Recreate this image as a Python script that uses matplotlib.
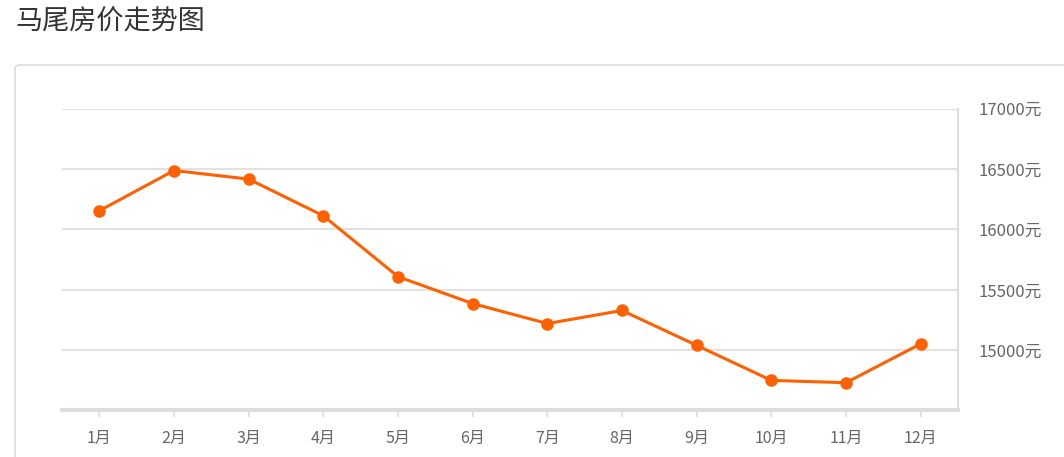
import matplotlib.pyplot as plt
from matplotlib.patches import FancyBboxPatch

plt.rcParams['font.family'] = ['Noto Sans CJK SC', 'DejaVu Sans']

months = ['1月', '2月', '3月', '4月', '5月', '6月', '7月', '8月', '9月', '10月', '11月', '12月']
prices = [16155, 16488, 16417, 16113, 15609, 15386, 15221, 15329, 15040, 14750, 14731, 15053]
y_ticks = [15000, 15500, 16000, 16500, 17000]
y_labels = ['15000元', '15500元', '16000元', '16500元', '17000元']

W, H = 1064, 457
fig = plt.figure(figsize=(W / 100, H / 100), dpi=100)

# title
fig.text(15 / W, 1 - 22 / H, '马尾房价走势图', fontsize=19.5, color='#333333', va='center', ha='left')

# panel border
panel = FancyBboxPatch((15 / W, -0.2), 1.2, 1 - 65 / H + 0.2,
                       boxstyle='round,pad=0,rounding_size=0.006',
                       transform=fig.transFigure, facecolor='white',
                       edgecolor='#dddddd', linewidth=1.2, zorder=-1)
fig.patches.append(panel)

left, right, top, bottom = 62, 958, 108.7, 410
ax = fig.add_axes([left / W, 1 - bottom / H, (right - left) / W, (bottom - top) / H])
ax.set_facecolor('none')
ax.set_zorder(2)

x = list(range(len(months)))
ax.plot(x, prices, color='#ff6000', linewidth=2.2, marker='o', markersize=8, zorder=3)

ax.set_xlim(-0.5, len(months) - 0.5)
ax.set_ylim(14505, 17000)
ax.set_xticks(x)
ax.set_xticklabels(months)
ax.set_yticks(y_ticks)
ax.set_yticklabels(y_labels)
ax.yaxis.tick_right()

ax.grid(axis='y', color='#dddddd', linewidth=1.2)
ax.set_axisbelow(True)

for s in ['top', 'left']:
    ax.spines[s].set_visible(False)
ax.spines['right'].set_color('#dddddd')
ax.spines['right'].set_linewidth(1.5)
ax.spines['bottom'].set_color('#dddddd')
ax.spines['bottom'].set_linewidth(3)

ax.tick_params(axis='x', colors='#dddddd', length=5, width=1.2, pad=9, labelcolor='#666666', labelsize=11.5)
ax.tick_params(axis='y', length=0, pad=15, labelcolor='#666666', labelsize=12)

fig.savefig('out.png', dpi=100)
